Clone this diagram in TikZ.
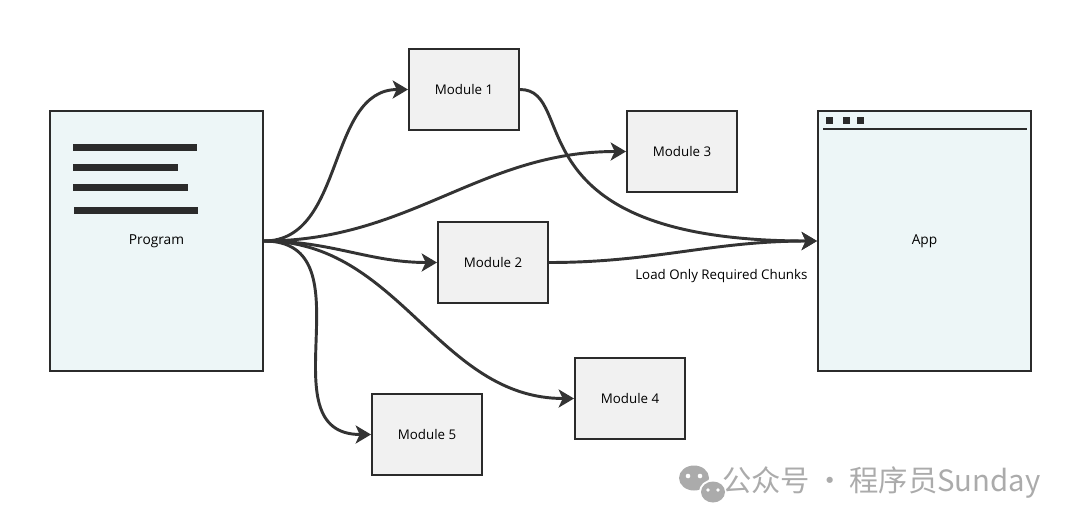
\documentclass[tikz,border=0pt]{standalone}
\usepackage{fontspec}
\setmainfont{Open Sans}
\newfontfamily\cjkfont{Noto Sans CJK SC}
\usetikzlibrary{arrows.meta, positioning}
\definecolor{boxline}{RGB}{43,43,43}
\definecolor{edgeline}{RGB}{51,51,51}
\definecolor{paleblue}{RGB}{237,246,247}
\definecolor{palegray}{RGB}{241,241,241}
\definecolor{markgray}{RGB}{171,171,171}

\begin{document}
\begin{tikzpicture}[
    x=0.75pt, y=-0.75pt,
    bigbox/.style={rectangle, draw=boxline, line width=1.5pt, fill=paleblue, minimum width=159.75pt, minimum height=195pt, font=\fontsize{10.3}{12}\selectfont},
    modbox/.style={rectangle, draw=boxline, line width=1.5pt, fill=palegray, minimum width=82.5pt, minimum height=60.75pt, font=\fontsize{10}{12}\selectfont},
    arrow/.style={-{Stealth[length=11.5pt, width=13.5pt, inset=3pt]}, line width=2.2pt, draw=edgeline},
    bar/.style={line width=5.25pt, draw=boxline},
]
    \useasboundingbox (0,0) rectangle (1080,525);

    % program and app
    \node[bigbox] (prog) at (156.5,241) {Program};
    \node[bigbox] (app) at (924.5,241) {App};

    \draw[bar] (73,147) -- (197,147);
    \draw[bar] (73,167) -- (178,167);
    \draw[bar] (73,187) -- (188,187);
    \draw[bar] (74,210) -- (198,210);

    \fill[boxline] (826,117) rectangle (833,124);
    \fill[boxline] (843,117) rectangle (850,124);
    \fill[boxline] (857,117) rectangle (864,124);
    \draw[boxline, line width=1.5pt] (823,129) -- (1027,129);

    % modules
    \node[modbox] (m1) at (464,89.5) {Module 1};
    \node[modbox] (m3) at (682,151.5) {Module 3};
    \node[modbox] (m2) at (493,262.5) {Module 2};
    \node[modbox] (m4) at (630,398.5) {Module 4};
    \node[modbox] (m5) at (427,434.5) {Module 5};

    % split into chunks
    \draw[arrow] (prog.east) to[out=0, in=180] (m1.west);
    \draw[arrow] (prog.east) to[out=0, in=180] (m3.west);
    \draw[arrow] (prog.east) to[out=0, in=180] (m2.west);
    \draw[arrow] (prog.east) to[out=0, in=180] (m4.west);
    \draw[arrow] (prog.east) to[out=0, in=180, looseness=1.25] (m5.west);

    % load on demand
    \draw[arrow] (m1.east) to[out=0, in=180, out distance=45pt, in distance=232pt] (app.west);
    \draw[arrow] (m2.east) to[out=0, in=180]
        node[pos=1, anchor=north east, xshift=-2.7pt, yshift=-16.5pt, font=\fontsize{10}{12}\selectfont] {Load Only Required Chunks} (app.west);

    % watermark
    \fill[markgray] (694,478) ellipse (15 and 12.5);
    \fill[white] (688,476) circle (2.3) (700,476) circle (2.3);
    \fill[white] (713,492) ellipse (14 and 12.5);
    \fill[markgray] (713,492) ellipse (12 and 10.5);
    \fill[white] (708,490) circle (1.9) (718,490) circle (1.9);
    \node[anchor=west, text=markgray, font=\cjkfont\fontsize{22}{25}\selectfont, inner sep=0pt] (mark) at (722,483) {公众号\,·\,程序员Sunday};
\end{tikzpicture}
\end{document}
